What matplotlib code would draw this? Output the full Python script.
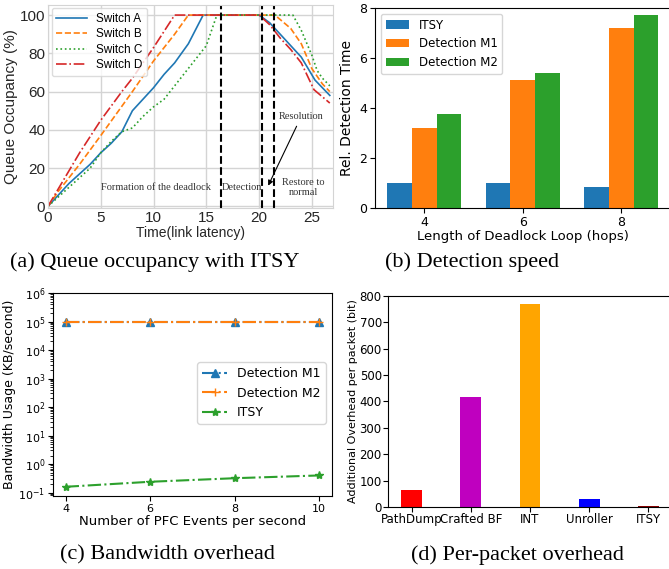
import matplotlib
matplotlib.use('Agg')
from matplotlib import pyplot as plt
import numpy as np

# (a) queue occupancy over time
a_x = [0, 1, 2, 3, 4, 5, 6, 7, 8, 9, 10, 11, 12, 13.3, 14.7, 16, 18, 20, 21, 22, 23, 24, 25.3, 26.7]
switch_a = [0, 6, 12, 17, 22, 28, 33, 39, 50, 56, 62, 69, 75, 85, 100, 100, 100, 100, 96, 90, 84, 78, 66, 58]
b_x = [0, 1, 2, 3, 5, 8, 10, 12, 13.3, 16, 18, 20, 21.5, 23, 24, 25, 26, 26.7]
switch_b = [0, 8, 15, 22, 37, 60, 76, 90, 100, 100, 100, 100, 100, 93, 85, 72, 64, 60]
c_x = [0, 2, 4, 5, 6, 7, 8, 9, 10, 11, 12, 13, 14, 15, 16, 18, 20, 22, 23.2, 24, 25, 25.5, 26, 26.7]
switch_c = [0, 10, 20, 28, 34, 39, 41, 47, 52, 56, 63, 70, 77, 84, 100, 100, 100, 100, 100, 92, 79, 71, 67, 63]
d_x = [0, 3, 5, 7, 8, 10, 12, 14, 16, 18, 20, 21, 22, 23, 24, 25.2, 26.7]
switch_d = [0, 28, 45, 60, 67, 83, 100, 100, 100, 100, 100, 95, 88, 82, 75, 61, 54]
phase_lines = [16.4, 20.25, 21.4]

# (b) detection speed
loop_len = [4, 6, 8]
det_itsy = [1.0, 1.0, 0.83]
det_m1 = [3.2, 5.1, 7.2]
det_m2 = [3.75, 5.4, 7.7]

# (c) bandwidth overhead
pfc_events = [4, 6, 8, 10]
bw_m1 = [9.6e4, 9.6e4, 9.6e4, 9.6e4]
bw_m2 = [9.8e4, 9.8e4, 9.8e4, 9.8e4]
bw_itsy = [0.16, 0.24, 0.32, 0.40]

# (d) per-packet overhead
methods = ['PathDump', 'Crafted BF', 'INT', 'Unroller', 'ITSY']
pkt_overhead = [65, 415, 768, 30, 2]
pkt_colors = ['red', 'm', 'orange', 'blue', 'darkred']

fig = plt.figure(figsize=(6.69, 5.69), dpi=100)

#----- panel (a), seaborn-like whitegrid look, Arial-ish font
arial = 'Liberation Sans'
ax1 = fig.add_axes([0.0717, 0.634, 0.426, 0.358])
ax1.plot(a_x, switch_a, '-', color='#1f77b4', lw=1.2, label='Switch A')
ax1.plot(b_x, switch_b, '--', color='#ff7f0e', lw=1.2, label='Switch B')
ax1.plot(c_x, switch_c, ':', color='#2ca02c', lw=1.2, label='Switch C')
ax1.plot(d_x, switch_d, '-.', color='#d62728', lw=1.2, label='Switch D')
for xv in phase_lines:
    ax1.axvline(xv, color='black', ls='--', lw=1.5)
ax1.set_xlim(0, 27)
ax1.set_ylim(-1, 105.5)
ax1.set_xticks([0, 5, 10, 15, 20, 25])
ax1.set_yticks([0, 20, 40, 60, 80, 100])
ax1.grid(True, color='#d4d4d4', lw=1)
ax1.set_axisbelow(True)
for s in ax1.spines.values():
    s.set_color('#d4d4d4')
ax1.tick_params(length=0, labelsize=11, colors='#262626', pad=2)
for lab in ax1.get_xticklabels() + ax1.get_yticklabels():
    lab.set_family(arial)
ax1.set_xlabel('Time(link latency)', fontsize=10, labelpad=1, color='#262626', family=arial)
ax1.set_ylabel('Queue Occupancy (%)', fontsize=11, labelpad=1, color='#262626', family=arial)
ax1.legend(loc='upper left', prop={'family': arial, 'size': 8.5}, frameon=True,
           edgecolor='#d4d4d4', handlelength=2.6, borderaxespad=0.3, labelspacing=0.3)
sf = dict(family='Liberation Serif', fontsize=7.5, color='#333333')
ax1.text(10.2, 10, 'Formation of the deadlock', ha='center', va='center', **sf)
ax1.text(18.4, 10, 'Detection', ha='center', va='center', **sf)
ax1.text(24.2, 10, 'Restore to\nnormal', ha='center', va='center', **sf)
ax1.annotate('Resolution', xy=(20.75, 9.5), xytext=(24.0, 47), ha='center', va='center',
             arrowprops=dict(arrowstyle='-|>', color='black', lw=0.8), **sf)

#----- panel (b)
ax2 = fig.add_axes([0.5605, 0.6344, 0.4417, 0.3516])
w = 0.5
ax2.bar([x - w for x in loop_len], det_itsy, w, color='#1f77b4', label='ITSY')
ax2.bar(loop_len, det_m1, w, color='#ff7f0e', label='Detection M1')
ax2.bar([x + w for x in loop_len], det_m2, w, color='#2ca02c', label='Detection M2')
ax2.set_xlim(3, 9)
ax2.set_ylim(0, 8)
ax2.set_xticks(loop_len)
ax2.set_yticks([0, 2, 4, 6, 8])
ax2.tick_params(labelsize=9, pad=2)
ax2.set_xlabel('Length of Deadlock Loop (hops)', fontsize=9.5, labelpad=1)
ax2.set_ylabel('Rel. Detection Time', fontsize=10)
ax2.legend(loc='upper left', fontsize=8.5)

#----- panel (c)
ax3 = fig.add_axes([0.0792, 0.128, 0.417, 0.357])
ax3.plot(pfc_events, bw_m1, '^-.', color='#1f77b4', ms=6, lw=1.5, label='Detection M1')
ax3.plot(pfc_events, bw_m2, '+-.', color='#ff7f0e', ms=6, lw=1.5, label='Detection M2')
ax3.plot(pfc_events, bw_itsy, '*-.', color='#2ca02c', ms=6, lw=1.5, label='ITSY')
ax3.set_yscale('log')
ax3.set_ylim(0.075, 1e6)
ax3.set_xlim(3.7, 10.3)
ax3.set_xticks([4, 6, 8, 10])
ax3.set_yticks([1e-1, 1e0, 1e1, 1e2, 1e3, 1e4, 1e5, 1e6])
ax3.tick_params(labelsize=8, pad=2)
ax3.set_xlabel('Number of PFC Events per second', fontsize=9.5, labelpad=1)
ax3.set_ylabel('Bandwidth Usage (KB/second)', fontsize=9, labelpad=2)
ax3.legend(loc='center right', fontsize=9, bbox_to_anchor=(1.0, 0.507))

#----- panel (d)
ax4 = fig.add_axes([0.58, 0.109, 0.4245, 0.371])
ax4.bar(range(len(methods)), pkt_overhead, 0.35, color=pkt_colors)
ax4.set_xlim(-0.4, 4.4)
ax4.set_ylim(0, 800)
ax4.set_xticks(range(len(methods)))
ax4.set_xticklabels(methods)
ax4.tick_params(labelsize=8.5, pad=1)
ax4.set_ylabel('Additional Overhead per packet (bit)', fontsize=8, labelpad=1)

#----- captions
cf = dict(family='Liberation Serif', fontsize=16, ha='center', va='center')
fig.text(155 / 669, 1 - 262 / 569, '(a) Queue occupancy with ITSY', **cf)
fig.text(472 / 669, 1 - 262 / 569, '(b) Detection speed', **cf)
fig.text(167 / 669, 1 - 555 / 569, '(c) Bandwidth overhead', **cf)
fig.text(517 / 669, 1 - 555 / 569, '(d) Per-packet overhead', **cf)

fig.savefig('out.png', dpi=100)
